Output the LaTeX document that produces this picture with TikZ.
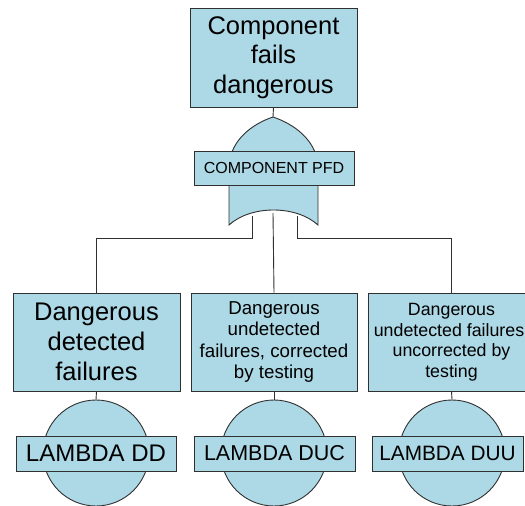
\documentclass[tikz,border=0pt]{standalone}
\usepackage{fontspec}
\setmainfont{Liberation Sans}
\definecolor{boxfill}{HTML}{ADD8E6}
\definecolor{edge}{HTML}{303030}
\pgfdeclarelayer{bg}
\pgfsetlayers{bg,main}
\begin{document}
\begin{tikzpicture}[x=1pt,y=-1pt,
  box/.style={draw=edge, fill=boxfill, line width=0.9pt, inner sep=0pt, align=center},
  circ/.style={circle, draw=edge, fill=boxfill, line width=0.9pt, inner sep=0pt, minimum size=106pt},
  conn/.style={draw=edge, line width=0.9pt},
  gate/.style={draw=edge, fill=boxfill, line width=0.9pt}]
\useasboundingbox (0,0) rectangle (525,506);

% top event
\node[box, minimum width=167pt, minimum height=99pt, font=\fontsize{25.5}{29.5}\selectfont] (top) at (273.5,57.5) {Component\\fails\\dangerous};

% OR gate
\coordinate (apex) at (273,117);
\coordinate (gl) at (229,225);
\coordinate (gr) at (318,225);
\coordinate (in1) at (252,216);
\coordinate (in2) at (273,213);
\coordinate (in3) at (297,216);
\path[gate] (gl) -- (229,165) .. controls (231,140) and (252,124) .. (apex)
  .. controls (294,124) and (316,140) .. (318,165) -- (gr)
  .. controls (296,205) and (251,205) .. (gl) -- cycle;
\node[box, minimum width=160pt, minimum height=34pt, font=\fontsize{16}{19}\selectfont] (pfd) at (274,168) {COMPONENT PFD};

% basic events boxes
\node[box, minimum width=167pt, minimum height=98pt, font=\fontsize{25.5}{30}\selectfont] (b1) at (96.5,342) {Dangerous\\detected\\failures};
\node[box, minimum width=166pt, minimum height=98pt, font=\fontsize{18.7}{21.5}\selectfont] (b2) at (274,342) {Dangerous\\undetected\\failures, corrected\\by testing};
\node[box, minimum width=167pt, minimum height=98pt, font=\fontsize{17.8}{20.5}\selectfont] (b3) at (451.5,342) {Dangerous\\undetected failures,\\uncorrected by\\testing};

% circles
\node[circ] (c1) at (96,453) {};
\node[circ] (c2) at (274,453) {};
\node[circ] (c3) at (452,453) {};

% lambda boxes
\node[box, minimum width=160pt, minimum height=35pt, font=\fontsize{24}{28}\selectfont] (l1) at (96,453.5) {LAMBDA DD};
\node[box, minimum width=161pt, minimum height=35pt, font=\fontsize{21.5}{25}\selectfont] (l2) at (274.5,453.5) {LAMBDA DUC};
\node[box, minimum width=151pt, minimum height=35pt, font=\fontsize{20.8}{25}\selectfont] (l3) at (447.5,453.5) {LAMBDA DUU};

% connectors
\begin{pgfonlayer}{bg}
\draw[conn] (top.south) -- (apex);
\draw[conn] (in1) -- ++(0,22) -| (b1.north);
\draw[conn] (in2) -- (b2.north);
\draw[conn] (in3) -- ++(0,22) -| (b3.north);
\draw[conn] (b1.south) -- (c1.north);
\draw[conn] (b2.south) -- (c2.north);
\draw[conn] (b3.south) -- (c3.north);
\end{pgfonlayer}
\end{tikzpicture}
\end{document}
